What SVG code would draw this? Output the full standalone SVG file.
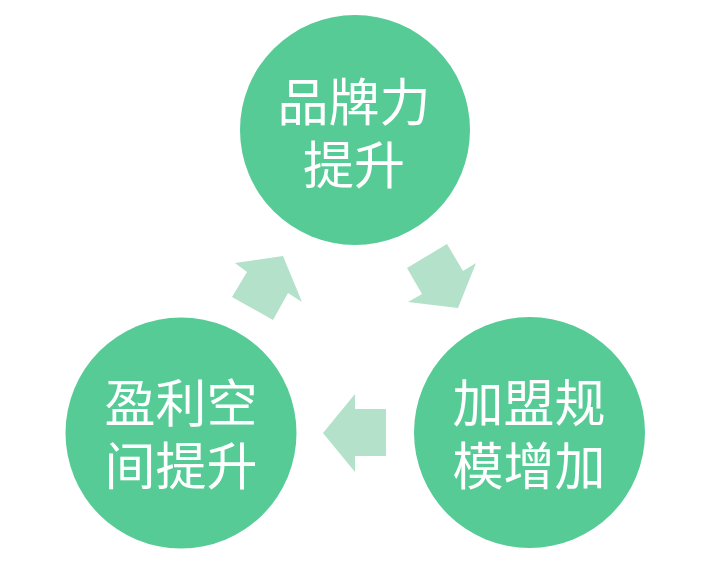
<svg xmlns="http://www.w3.org/2000/svg" width="718" height="561" viewBox="0 0 718 561">
<style>
.node circle{fill:#56CB96;}
.node text{fill:#ffffff;font-family:"Noto Sans CJK SC","Noto Sans",sans-serif;font-size:51px;text-anchor:middle;}
.conn polygon{fill:#B3E1CA;}
</style>
<rect width="718" height="561" fill="#ffffff"/>
<g id="connectors" class="conn">
<polygon points="235,263 283,256 302,302 288,293 273,320 232,297 247,272"/>
<polygon points="407,268 447,244 463,271 476,263 458,308 408,302 422,294"/>
<polygon points="323,433 355,394 355,409 386,409 386,456 355,456 355,472"/>
</g>
<g id="node-brand" class="node">
<circle cx="355" cy="130" r="115"/>
<text><tspan x="354" y="121">品牌力</tspan><tspan x="354" y="184">提升</tspan></text>
</g>
<g id="node-profit" class="node">
<circle cx="181" cy="433" r="115.5"/>
<text><tspan x="181" y="422">盈利空</tspan><tspan x="181" y="485">间提升</tspan></text>
</g>
<g id="node-scale" class="node">
<circle cx="529.5" cy="432.5" r="115.5"/>
<text><tspan x="529" y="422">加盟规</tspan><tspan x="529" y="485">模增加</tspan></text>
</g>
</svg>
